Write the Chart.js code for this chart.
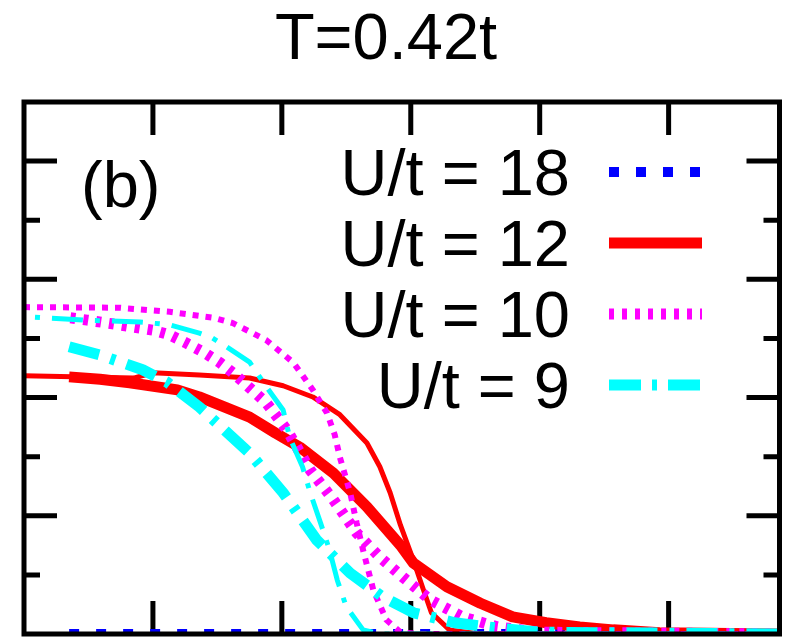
<!DOCTYPE html>
<html>
<head>
<meta charset="utf-8">
<script src="https://cdn.jsdelivr.net/npm/chart.js@4"></script>
<style>
  html, body { margin: 0; padding: 0; background: #fff; }
  #wrap { width: 787px; height: 638px; }
</style>
</head>
<body>
<div id="wrap"><canvas id="chart" width="787" height="638"></canvas></div>
<script>
// legend labels (one per U/t value)
const legendLabels = ['U/t = 18', 'U/t = 12', 'U/t = 10', 'U/t = 9'];
const titleText = 'T=0.42t';
const panelTag = '(b)';

// tick values (no tick labels are shown in the figure)
const xTicks = [1, 2, 3, 4, 5];
const yMajor = [0.2, 0.4, 0.6, 0.8];
const yMinor = [0.1, 0.3, 0.5, 0.7];

// U/t = 18 (stays at zero)
const x18 = [0.35, 5.86];
const y18 = [0, 0];

// U/t = 12, thick and thin curve
const x12a = [0.35, 0.59, 0.82, 1.19, 1.36, 1.75, 1.95, 2.14, 2.40, 2.66, 2.92, 3.02, 3.28, 3.54, 3.79, 4.05, 4.31, 4.57, 4.93, 5.86];
const y12a = [0.435, 0.431, 0.425, 0.413, 0.401, 0.367, 0.340, 0.316, 0.272, 0.215, 0.150, 0.120, 0.080, 0.052, 0.029, 0.019, 0.012, 0.007, 0.002, 0];
const x12b = [0, 0.85, 1.00, 1.36, 1.75, 2.01, 2.24, 2.45, 2.66, 2.76, 2.84, 2.92, 3.02, 3.09, 3.16, 3.30, 3.54, 5.86];
const y12b = [0.437, 0.433, 0.442, 0.438, 0.433, 0.420, 0.401, 0.371, 0.323, 0.283, 0.239, 0.184, 0.125, 0.080, 0.036, 0.007, 0, 0];

// U/t = 10, thick and thin curve
const x10a = [0.36, 0.49, 0.74, 1.00, 1.13, 1.26, 1.39, 1.52, 1.62, 1.88, 2.04, 2.22, 2.40, 2.58, 2.76, 2.94, 3.15, 3.40, 3.67, 4.00, 5.86];
const y10a = [0.535, 0.531, 0.523, 0.514, 0.506, 0.492, 0.477, 0.459, 0.442, 0.391, 0.345, 0.277, 0.227, 0.171, 0.130, 0.096, 0.058, 0.029, 0.012, 0.003, 0];
const x10b = [0, 0.74, 1.13, 1.47, 1.62, 1.88, 2.09, 2.24, 2.35, 2.41, 2.45, 2.53, 2.58, 2.63, 2.71, 2.81, 2.92, 3.07, 5.86];
const y10b = [0.553, 0.552, 0.545, 0.535, 0.526, 0.497, 0.459, 0.413, 0.374, 0.337, 0.299, 0.239, 0.188, 0.142, 0.074, 0.024, 0.003, 0, 0];

// U/t = 9, thick and thin curve
const x9a = [0.35, 0.59, 0.92, 1.11, 1.36, 1.75, 2.01, 2.27, 2.53, 2.78, 3.02, 3.34, 3.67, 4.00, 5.86];
const y9a = [0.486, 0.472, 0.447, 0.426, 0.384, 0.306, 0.239, 0.159, 0.103, 0.063, 0.036, 0.019, 0.010, 0.003, 0];
const x9b = [0, 0.46, 0.90, 1.13, 1.36, 1.46, 1.57, 1.75, 1.88, 2.01, 2.06, 2.16, 2.22, 2.30, 2.37, 2.43, 2.50, 2.63, 2.76, 5.86];
const y9b = [0.537, 0.531, 0.528, 0.523, 0.509, 0.501, 0.486, 0.460, 0.418, 0.379, 0.333, 0.283, 0.239, 0.188, 0.142, 0.091, 0.046, 0.007, 0, 0];

const pts = (xs, ys) => xs.map((x, i) => ({ x: x, y: ys[i] }));

const BLUE = '#0000ff', RED = '#ff0000', MAG = '#ff00ff', CYAN = '#00ffff';
const DOTS = [10, 17];
const FINE = [5, 8];
const DASHDOT = [31, 12, 5, 12];

const datasets = [
    { data: pts(x9b, y9b), borderColor: CYAN, borderWidth: 5, borderDash: DASHDOT, borderDashOffset: 32, order: 0 },
    { data: pts(x9a, y9a), borderColor: CYAN, borderWidth: 11, borderDash: DASHDOT, order: 1 },
    { data: pts(x10b, y10b), borderColor: MAG, borderWidth: 6, borderDash: [6, 7], order: 2 },
    { data: pts(x10a, y10a), borderColor: MAG, borderWidth: 11, borderDash: FINE, order: 3 },
    { data: pts(x12b, y12b), borderColor: RED, borderWidth: 5, order: 4 },
    { data: pts(x12a, y12a), borderColor: RED, borderWidth: 11, order: 5 },
    { data: pts(x18, y18), borderColor: BLUE, borderWidth: 10, borderDash: DOTS, order: 6 }
];

// legend samples use the thick-line styles
const legendStyles = [
    { color: BLUE, width: 10, dash: DOTS },
    { color: RED, width: 11, dash: [] },
    { color: MAG, width: 11, dash: FINE },
    { color: CYAN, width: 11, dash: [32, 11, 5, 11] }
];

const FONT = "65px 'Liberation Sans', Arial, Helvetica, sans-serif";

const framePlugin = {
    id: 'framePlugin',
    beforeDatasetsDraw(chart) {
        const { ctx, chartArea: a, scales } = chart;
        ctx.save();
        ctx.strokeStyle = '#000';
        ctx.lineWidth = 5;
        ctx.lineCap = 'butt';
        ctx.beginPath();
        xTicks.forEach(v => {
            const px = scales.x.getPixelForValue(v);
            ctx.moveTo(px, a.top); ctx.lineTo(px, a.top + 33);
            ctx.moveTo(px, a.bottom); ctx.lineTo(px, a.bottom - 33);
        });
        yMajor.forEach(v => {
            const py = scales.y.getPixelForValue(v);
            ctx.moveTo(a.left, py); ctx.lineTo(a.left + 33, py);
            ctx.moveTo(a.right, py); ctx.lineTo(a.right - 33, py);
        });
        yMinor.forEach(v => {
            const py = scales.y.getPixelForValue(v);
            ctx.moveTo(a.left, py); ctx.lineTo(a.left + 16, py);
            ctx.moveTo(a.right, py); ctx.lineTo(a.right - 16, py);
        });
        ctx.stroke();
        ctx.restore();
    },
    afterDatasetsDraw(chart) {
        const { ctx, chartArea: a } = chart;
        ctx.save();
        ctx.strokeStyle = '#000';
        ctx.lineWidth = 5;
        ctx.strokeRect(a.left, a.top, a.right - a.left, a.bottom - a.top);
        ctx.restore();
    },
    afterDraw(chart) {
        const ctx = chart.ctx;
        ctx.save();
        ctx.fillStyle = '#000';
        ctx.font = FONT;
        ctx.textBaseline = 'alphabetic';
        ctx.textAlign = 'center';
        ctx.fillText(titleText, 386, 59);
        ctx.textAlign = 'left';
        ctx.fillText(panelTag, 81, 207);

        legendLabels.forEach((lab, i) => {
            const sy = 172 + i * 71;
            const st = legendStyles[i];
            ctx.textAlign = 'right';
            ctx.fillStyle = '#000';
            ctx.fillText(lab, 570, sy + 23);
            ctx.save();
            ctx.strokeStyle = st.color;
            ctx.lineWidth = st.width;
            ctx.lineCap = 'butt';
            ctx.setLineDash(st.dash);
            ctx.beginPath();
            ctx.moveTo(609, sy);
            ctx.lineTo(702, sy);
            ctx.stroke();
            ctx.restore();
        });
        ctx.restore();
    }
};

new Chart(document.getElementById('chart').getContext('2d'), {
    type: 'line',
    data: { datasets: datasets },
    options: {
        responsive: false,
        animation: false,
        devicePixelRatio: 1,
        layout: { padding: { left: 24, right: 7.5, top: 102, bottom: 4 } },
        elements: {
            point: { radius: 0, hoverRadius: 0 },
            line: { tension: 0, borderJoinStyle: 'round', borderCapStyle: 'butt', fill: false }
        },
        scales: {
            x: { type: 'linear', min: 0, max: 5.86, display: false },
            y: { type: 'linear', min: 0, max: 0.9, display: false }
        },
        plugins: {
            legend: { display: false },
            tooltip: { enabled: false },
            title: { display: false }
        }
    },
    plugins: [framePlugin]
});
</script>
</body>
</html>
